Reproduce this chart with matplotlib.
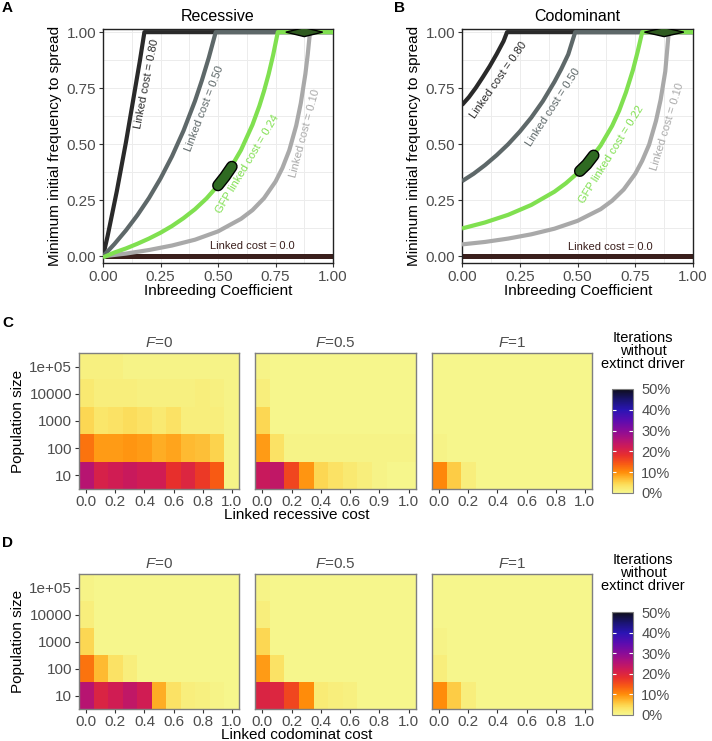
import matplotlib
matplotlib.use("Agg")
import matplotlib.pyplot as plt
import numpy as np
from matplotlib.colors import LinearSegmentedColormap, Normalize
from matplotlib.patches import Polygon

plt.rcParams['font.family'] = ['Liberation Sans', 'DejaVu Sans']
plt.rcParams['mathtext.fontset'] = 'custom'
plt.rcParams['mathtext.it'] = 'Liberation Sans:italic'
plt.rcParams['mathtext.rm'] = 'Liberation Sans'

# ---- panel A (recessive): minimum initial frequency vs inbreeding ----
rec_F_80 = [0, 0.02, 0.04, 0.06, 0.08, 0.10, 0.12, 0.14, 0.16, 0.18, 1.0]
rec_p_80 = [0, 0.09, 0.19, 0.29, 0.40, 0.51, 0.63, 0.75, 0.87, 1.0, 1.0]
rec_F_50 = [0, 0.05, 0.10, 0.15, 0.20, 0.25, 0.30, 0.35, 0.40, 0.43, 0.46, 0.49, 1.0]
rec_p_50 = [0, 0.055, 0.116, 0.184, 0.26, 0.347, 0.446, 0.56, 0.693, 0.785, 0.886, 1.0, 1.0]
rec_F_24 = [0, 0.05, 0.1, 0.15, 0.2, 0.25, 0.3, 0.35, 0.4, 0.45, 0.5, 0.55, 0.6, 0.65,
            0.68, 0.7, 0.72, 0.74, 0.76, 1.0]
rec_p_24 = [-0.005, 0.017, 0.035, 0.056, 0.079, 0.105, 0.135, 0.17, 0.21, 0.258, 0.316, 0.386,
            0.474, 0.587, 0.671, 0.737, 0.812, 0.899, 1.0, 1.0]
rec_F_10 = [0, 0.1, 0.2, 0.3, 0.4, 0.5, 0.6, 0.65, 0.7, 0.75, 0.78, 0.81, 0.84, 0.86, 0.88,
            0.89, 0.90, 1.0]
rec_p_10 = [0, 0.012, 0.028, 0.048, 0.074, 0.111, 0.167, 0.206, 0.259, 0.333, 0.394, 0.473,
            0.583, 0.683, 0.814, 0.899, 1.0, 1.0]

# ---- panel B (codominant) ----
cod_F_80 = [0, 0.03, 0.06, 0.09, 0.12, 0.15, 0.18, 0.195, 1.0]
cod_p_80 = [0.675, 0.71, 0.752, 0.799, 0.848, 0.902, 0.96, 1.0, 1.0]
cod_F_50 = [0, 0.05, 0.1, 0.15, 0.2, 0.25, 0.3, 0.35, 0.4, 0.43, 0.46, 0.49, 1.0]
cod_p_50 = [0.335, 0.368, 0.407, 0.451, 0.5, 0.556, 0.619, 0.692, 0.778, 0.836, 0.901, 1.0, 1.0]
cod_F_22 = [0, 0.1, 0.2, 0.3, 0.4, 0.45, 0.5, 0.55, 0.6, 0.65, 0.68, 0.71, 0.74, 0.76, 0.78, 1.0]
cod_p_22 = [0.124, 0.151, 0.185, 0.229, 0.288, 0.326, 0.371, 0.426, 0.494, 0.582, 0.649,
            0.732, 0.831, 0.911, 1.0, 1.0]
cod_F_10 = [0, 0.1, 0.2, 0.3, 0.4, 0.5, 0.6, 0.65, 0.7, 0.75, 0.78, 0.81, 0.84, 0.86, 0.88,
            0.895, 1.0]
cod_p_10 = [0.053, 0.064, 0.079, 0.098, 0.123, 0.158, 0.21, 0.248, 0.298, 0.368, 0.426, 0.498,
            0.605, 0.699, 0.825, 1.0, 1.0]

# GFP estimate markers (segment on green curve, range at top)
rec_gfp_F = [0.50, 0.53, 0.56]
rec_gfp_p = [0.316, 0.355, 0.40]
cod_gfp_F = [0.51, 0.54, 0.57]
cod_gfp_p = [0.38, 0.41, 0.45]
top_F_center = [0.875, 0.875]
top_F_half = [0.08, 0.085]

# ---- heatmaps: % iterations without extinct driver ----
pop_labels = ['10', '100', '1000', '10000', '1e+05']
cost_ticks = ['0.0', '0.2', '0.4', '0.6', '0.8', '1.0']
cost_ticks_mid_rec = ['0.0', '0.2', '0.4', '0.6', '0.9', '1.0']

rec_F0 = [[25, 21, 22, 23, 22, 22, 18, 20, 17, 14, 0.5],
          [12, 9, 9, 9.5, 9, 8, 8.5, 7, 6.5, 5, 0.5],
          [4.5, 3, 3.5, 4, 3.5, 2.5, 3.5, 1.5, 1.5, 1.5, 0.5],
          [2.5, 1.5, 1.5, 1.5, 1, 1, 1, 1, 1.5, 1, 0.5],
          [1, 1, 1, 0.5, 0.5, 0.5, 0.5, 0.5, 0.5, 0.5, 0.5]]
rec_F05 = [[23, 24, 16, 9.5, 4.5, 3.5, 2.5, 1.5, 0.5, 0, 0],
           [9, 3.5, 0.5, 0.5, 0.5, 0.5, 0.5, 0.5, 0.5, 0.5, 0.5],
           [4.5, 0, 0, 0, 0, 0, 0, 0, 0, 0, 0],
           [1.5, 0, 0, 0, 0, 0, 0, 0, 0, 0, 0],
           [0.5, 0, 0, 0, 0, 0, 0, 0, 0, 0, 0]]
rec_F1 = [[10.5, 5.5, 1.5, 0, 0, 0, 0, 0, 0, 0, 0],
          [0.5, 0, 0, 0, 0, 0, 0, 0, 0, 0, 0],
          [0, 0, 0, 0, 0, 0, 0, 0, 0, 0, 0],
          [0, 0, 0, 0, 0, 0, 0, 0, 0, 0, 0],
          [0, 0, 0, 0, 0, 0, 0, 0, 0, 0, 0]]
cod_F0 = [[25, 20.5, 22, 24, 22, 8, 3.5, 1.5, 1, 0.5, 0],
          [12, 7, 3.5, 1.5, 0, 0, 0, 0, 0, 0, 0],
          [4.5, 0, 0, 0, 0, 0, 0, 0, 0, 0, 0],
          [1.5, 0, 0, 0, 0, 0, 0, 0, 0, 0, 0],
          [0.5, 0, 0, 0, 0, 0, 0, 0, 0, 0, 0]]
cod_F05 = [[20.5, 20, 16, 10, 2, 1.5, 1, 0, 0, 0, 0],
           [9, 3.5, 0, 0, 0, 0, 0, 0, 0, 0, 0],
           [4.5, 0, 0, 0, 0, 0, 0, 0, 0, 0, 0],
           [1.5, 0, 0, 0, 0, 0, 0, 0, 0, 0, 0],
           [0.5, 0, 0, 0, 0, 0, 0, 0, 0, 0, 0]]
cod_F1 = [[10, 5.5, 1.5, 0, 0, 0, 0, 0, 0, 0, 0],
          [1.5, 0, 0, 0, 0, 0, 0, 0, 0, 0, 0],
          [0.5, 0, 0, 0, 0, 0, 0, 0, 0, 0, 0],
          [0, 0, 0, 0, 0, 0, 0, 0, 0, 0, 0],
          [0, 0, 0, 0, 0, 0, 0, 0, 0, 0, 0]]

W, H = 712, 741
fig = plt.figure(figsize=(W / 100, H / 100), dpi=100)

def px_axes(l, t, r, b):
    return fig.add_axes([l / W, 1 - b / H, (r - l) / W, (b - t) / H])

def ftext(x, y, s, **kw):
    fig.text(x / W, 1 - y / H, s, **kw)

GREY30 = '#4d4d4d'
C_BLACK, C_GREY, C_GREEN, C_LGREY, C_BROWN = '#2a2a2a', '#5e6869', '#80e050', '#a9a9a9', '#3a1f1c'


def line_panel(ax, curves, gfp_F, gfp_p, top_c, top_h, labels):
    for yv in np.arange(0, 1.01, 0.125):
        ax.axhline(yv, color='#ececec', lw=0.7, zorder=0)
        ax.axvline(yv, color='#ececec', lw=0.7, zorder=0)
    ax.axhline(0, color=C_BROWN, lw=3.6, zorder=2)
    for (F, p, c, z) in curves:
        ax.plot(F, p, color=c, lw=3.0, zorder=z, solid_joinstyle='round', solid_capstyle='butt')
    ax.plot(gfp_F, gfp_p, color='black', lw=8.5, solid_capstyle='round', zorder=6)
    ax.plot(gfp_F, gfp_p, color='#2f6a22', lw=6.5, solid_capstyle='round', zorder=7)
    diamond = Polygon([[top_c - top_h, 1.0], [top_c, 1.02], [top_c + top_h, 1.0], [top_c, 0.98]],
                      closed=True, facecolor='#2f5a20', edgecolor='black', lw=1.0, zorder=8)
    ax.add_patch(diamond)
    for (x, y, s, c, rot) in labels:
        ax.text(x, y, s, color=c, rotation=rot, fontsize=8, ha='center', va='center',
                rotation_mode='anchor', zorder=9)
    ax.set_xlim(0, 1)
    ax.set_ylim(-0.03, 1.014)
    ax.set_xticks([0, 0.25, 0.5, 0.75, 1.0])
    ax.set_xticklabels(['0.00', '0.25', '0.50', '0.75', '1.00'])
    ax.set_yticks([0, 0.25, 0.5, 0.75, 1.0])
    ax.set_yticklabels(['0.00', '0.25', '0.50', '0.75', '1.00'])
    ax.tick_params(labelsize=11, labelcolor=GREY30, color='#333333', length=3, width=0.8, pad=2)
    for sp in ax.spines.values():
        sp.set_color('#222222')
        sp.set_linewidth(1.0)
    ax.set_ylabel('Minimum initial frequency to spread', fontsize=11, labelpad=3)


axA = px_axes(103, 29, 333, 263)
line_panel(axA,
           [(rec_F_80, rec_p_80, C_BLACK, 3), (rec_F_10, rec_p_10, C_LGREY, 3.5),
            (rec_F_50, rec_p_50, C_GREY, 4), (rec_F_24, rec_p_24, C_GREEN, 5)],
           rec_gfp_F, rec_gfp_p, top_F_center[0], top_F_half[0],
           [(0.192, 0.77, 'Linked cost = 0.80', C_BLACK, 79),
            (0.44, 0.66, 'Linked cost = 0.50', C_GREY, 69),
            (0.627, 0.41, 'GFP linked cost = 0.24', C_GREEN, 59),
            (0.877, 0.55, 'Linked cost = 0.10', C_LGREY, 75),
            (0.648, 0.045, 'Linked cost = 0.0', C_BROWN, 0)])
axA.set_title('Recessive', fontsize=11.5, pad=6)

axB = px_axes(462, 29, 693, 263)
line_panel(axB,
           [(cod_F_80, cod_p_80, C_BLACK, 3), (cod_F_10, cod_p_10, C_LGREY, 3.5),
            (cod_F_50, cod_p_50, C_GREY, 4), (cod_F_22, cod_p_22, C_GREEN, 5)],
           cod_gfp_F, cod_gfp_p, top_F_center[1], top_F_half[1],
           [(0.158, 0.785, 'Linked cost = 0.80', C_BLACK, 55),
            (0.395, 0.665, 'Linked cost = 0.50', C_GREY, 57),
            (0.648, 0.455, 'GFP linked cost = 0.22', C_GREEN, 58),
            (0.89, 0.58, 'Linked cost = 0.10', C_LGREY, 73),
            (0.64, 0.042, 'Linked cost = 0.0', C_BROWN, 0)])
axB.set_title('Codominant', fontsize=11.5, pad=6)

ftext(218, 291, 'Inbreeding Coefficient', fontsize=11, ha='center', va='center')
ftext(578, 291, 'Inbreeding Coefficient', fontsize=11, ha='center', va='center')

# ---- heatmaps ----
cmap = LinearSegmentedColormap.from_list('drv', [
    (0.0, '#f6f68c'), (0.06, '#fbe66a'), (0.1, '#fdd34c'), (0.16, '#ffab22'),
    (0.2, '#ff8c0a'), (0.28, '#f85a14'), (0.36, '#e8302c'), (0.44, '#d01c54'),
    (0.52, '#b0127a'), (0.6, '#8a0c98'), (0.7, '#5a0cb0'), (0.8, '#2a14b4'),
    (0.9, '#1a1470'), (1.0, '#0e0e18')])
norm = Normalize(0, 50)

def heat_row(top, bot, datas, facets, xtick_sets, xlabel, cb_box, cb_title_y):
    lefts, rights = [79, 255, 432], [239, 416, 592]
    im = None
    for i in range(3):
        ax = px_axes(lefts[i], top, rights[i], bot)
        im = ax.imshow(np.array(datas[i]), origin='lower', aspect='auto', cmap=cmap, norm=norm,
                       interpolation='nearest')
        ax.set_xticks(range(0, 11, 2))
        ax.set_xticklabels(xtick_sets[i])
        ax.set_yticks(range(5))
        if i == 0:
            ax.set_yticklabels(pop_labels)
            ax.tick_params(axis='y', length=3, color='#333333', pad=2)
        else:
            ax.tick_params(axis='y', left=False, labelleft=False)
        ax.tick_params(labelsize=11, labelcolor=GREY30)
        ax.tick_params(axis='x', length=3, color='#333333', pad=1.5)
        for sp in ax.spines.values():
            sp.set_color('#7f7f7f')
            sp.set_linewidth(1.0)
        ax.set_title(facets[i], fontsize=11, color=GREY30, pad=4)
        if i == 0:
            ax.set_ylabel('Population size', fontsize=11, labelpad=3)
    ftext(297, bot + 26, xlabel, fontsize=11, ha='center', va='center')
    cax = px_axes(*cb_box)
    cb = fig.colorbar(im, cax=cax, ticks=[0, 10, 20, 30, 40, 50])
    cb.ax.set_yticklabels(['0%', '10%', '20%', '30%', '40%', '50%'])
    cb.outline.set_edgecolor('#7f7f7f')
    cb.ax.tick_params(which='both', left=True, right=True, direction='in', color='white',
                      length=3, labelsize=10.5, labelcolor=GREY30, pad=6)
    ftext(643, cb_title_y, 'Iterations\nwithout\nextinct driver', fontsize=10.5,
          ha='center', va='center', linespacing=0.95)


facets = ['$F$=0', '$F$=0.5', '$F$=1']
heat_row(353, 489, [rec_F0, rec_F05, rec_F1], facets,
         [cost_ticks, cost_ticks_mid_rec, cost_ticks], 'Linked recessive cost',
         (612, 389, 633, 493), 351)
heat_row(574, 709, [cod_F0, cod_F05, cod_F1], facets,
         [cost_ticks, cost_ticks, cost_ticks], 'Linked codominat cost',
         (612, 612, 633, 715), 573)

for (x, y, s) in [(2, 8, 'A'), (394, 8, 'B'), (2, 323, 'C'), (2, 543, 'D')]:
    ftext(x, y, s, fontsize=11, fontweight='bold', ha='left', va='center')

fig.savefig('out.png', dpi=100)
